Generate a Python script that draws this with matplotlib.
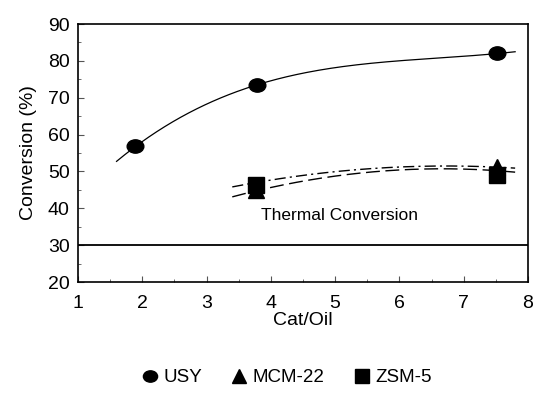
import numpy as np
import matplotlib.pyplot as plt
from matplotlib.path import Path
from matplotlib.transforms import Affine2D
from matplotlib.ticker import MultipleLocator

plt.rcParams['font.family'] = ['Liberation Sans', 'DejaVu Sans']

# measured conversions
usy_x = [1.89, 3.78, 7.52]
usy_y = [57.0, 73.4, 82.2]
mcm_x = [3.77, 7.52]
mcm_y = [45.0, 51.2]
zsm_x = [3.77, 7.52]
zsm_y = [46.2, 48.9]

# trend curves (start, middle, end points)
usy_trend_x = [1.6, 1.89, 3.78, 6.0, 7.52, 7.8]
usy_trend_y = [52.5, 57.0, 73.4, 80.0, 82.2, 82.3]
mcm_trend_x = [3.4, 6.0, 7.8]
mcm_trend_y = [45.8, 51.2, 50.9]
zsm_trend_x = [3.4, 6.0, 7.8]
zsm_trend_y = [43.1, 50.4, 49.8]

thermal = 30

ellipse = Path(Affine2D().scale(1.25, 1.0).transform(Path.unit_circle().vertices),
               Path.unit_circle().codes)

fig = plt.figure(figsize=(5.33, 4.05), dpi=100)
ax = fig.add_axes([0.1463, 0.3037, 0.8443, 0.637])


def trend(xs, ys, deg, **kw):
    c = np.polyfit(xs, ys, deg)
    xx = np.linspace(xs[0], xs[-1], 200)
    ax.plot(xx, np.polyval(c, xx), color='black', **kw)


trend(usy_trend_x, usy_trend_y, 3, lw=0.9)
trend(mcm_trend_x, mcm_trend_y, 2, lw=1.0, ls=(0, (8, 3, 1.5, 3)))
trend(zsm_trend_x, zsm_trend_y, 2, lw=1.0, ls=(0, (10, 4)))

ax.plot(usy_x, usy_y, ls='none', marker=ellipse, ms=12, color='black', label='USY')
ax.plot(mcm_x, mcm_y, ls='none', marker='^', ms=12, color='black', label='MCM-22')
ax.plot(zsm_x, zsm_y, ls='none', marker='s', ms=12, color='black', label='ZSM-5')

ax.axhline(thermal, color='black', lw=1.3)
ax.text(3.85, 38, 'Thermal Conversion', fontsize=12.5, va='center', ha='left')

ax.set_xlim(1, 8)
ax.set_ylim(20, 90)
ax.xaxis.set_major_locator(MultipleLocator(1))
ax.xaxis.set_minor_locator(MultipleLocator(0.5))
ax.yaxis.set_major_locator(MultipleLocator(10))
ax.yaxis.set_minor_locator(MultipleLocator(5))
ax.tick_params(which='both', direction='in', labelsize=14, color='#555555')
ax.tick_params(which='major', length=4, width=0.8)
ax.tick_params(which='minor', length=2.5, width=0.6)
ax.tick_params(axis='x', pad=9)
ax.tick_params(axis='y', pad=6)
for s in ax.spines.values():
    s.set_linewidth(1.2)

ax.set_xlabel('Cat/Oil', fontsize=14, labelpad=0)
ax.set_ylabel('Conversion (%)', fontsize=14, labelpad=8)

fig.legend(loc='center', bbox_to_anchor=(0.535, 0.067), ncol=3, frameon=False,
           fontsize=13.5, handletextpad=0.1, columnspacing=1.4, handlelength=1.2,
           markerscale=0.85)

fig.savefig('out.png', dpi=100)
